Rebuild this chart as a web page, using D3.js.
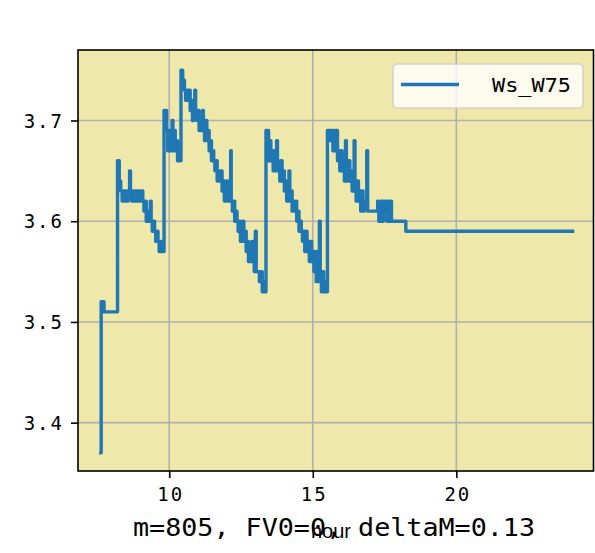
<!DOCTYPE html>
<html>
<head>
<meta charset="utf-8">
<script src="https://cdn.jsdelivr.net/npm/d3@7"></script>
<style>
    body { margin: 0; background: #fff; }
    text { font-family: "DejaVu Sans Mono", "Liberation Mono", monospace; fill: #000; }
</style>
</head>
<body>
<div id="chart"></div>
<script>
// hour / Ws_W75 pairs (step series)
const hours = [
    7.62, 7.63, 7.73, 8.20, 8.26, 8.31, 8.36, 8.40, 8.45, 8.49, 8.53, 8.57, 8.62, 8.65, 8.69, 8.73,
    8.77, 8.81, 8.85, 8.89, 8.93, 8.97, 9.01, 9.05, 9.08, 9.12, 9.16, 9.20, 9.24, 9.28, 9.34, 9.37,
    9.41, 9.45, 9.49, 9.53, 9.57, 9.61, 9.65, 9.69, 9.72, 9.82, 9.85, 9.88, 9.91, 9.95, 9.99, 10.03,
    10.07, 10.10, 10.13, 10.17, 10.21, 10.25, 10.29, 10.33, 10.36, 10.41, 10.47, 10.53, 10.57, 10.61,
    10.65, 10.69, 10.73, 10.77, 10.81, 10.85, 10.89, 10.92, 10.96, 11.00, 11.04, 11.08, 11.12, 11.16,
    11.19, 11.23, 11.27, 11.31, 11.35, 11.39, 11.43, 11.47, 11.51, 11.55, 11.59, 11.63, 11.67, 11.71,
    11.76, 11.80, 11.84, 11.88, 11.92, 11.96, 12.00, 12.04, 12.08, 12.14, 12.16, 12.20, 12.24, 12.28,
    12.32, 12.36, 12.40, 12.44, 12.48, 12.52, 12.56, 12.60, 12.64, 12.68, 12.72, 12.76, 12.80, 12.84,
    12.88, 12.92, 12.96, 13.00, 13.03, 13.14, 13.18, 13.24, 13.28, 13.31, 13.37, 13.40, 13.43, 13.46,
    13.50, 13.54, 13.58, 13.62, 13.66, 13.70, 13.74, 13.77, 13.81, 13.85, 13.89, 13.93, 13.97, 14.01,
    14.05, 14.09, 14.13, 14.17, 14.20, 14.24, 14.28, 14.32, 14.36, 14.40, 14.44, 14.48, 14.52, 14.56,
    14.60, 14.64, 14.68, 14.72, 14.76, 14.80, 14.84, 14.88, 14.92, 14.96, 15.00, 15.04, 15.08, 15.12,
    15.16, 15.20, 15.23, 15.26, 15.30, 15.34, 15.38, 15.42, 15.46, 15.51, 15.60, 15.64, 15.70, 15.74,
    15.78, 15.82, 15.86, 15.90, 15.94, 15.98, 16.02, 16.06, 16.10, 16.14, 16.17, 16.21, 16.25, 16.29,
    16.33, 16.37, 16.41, 16.44, 16.47, 16.51, 16.55, 16.59, 16.63, 16.67, 16.71, 16.75, 16.79, 16.88,
    16.91, 17.26, 17.30, 17.34, 17.38, 17.42, 17.46, 17.50, 17.54, 17.58, 17.62, 17.66, 17.70, 17.74,
    18.24, 24.05
];
const wsW75 = [
    3.37, 3.52, 3.51, 3.66, 3.64, 3.63, 3.62, 3.63, 3.62, 3.63, 3.62, 3.63, 3.65, 3.63, 3.62, 3.63,
    3.62, 3.63, 3.62, 3.63, 3.62, 3.63, 3.62, 3.63, 3.62, 3.61, 3.62, 3.60, 3.61, 3.60, 3.62, 3.60,
    3.59, 3.60, 3.59, 3.58, 3.59, 3.58, 3.57, 3.58, 3.57, 3.71, 3.70, 3.71, 3.69, 3.67, 3.69, 3.68,
    3.67, 3.70, 3.67, 3.69, 3.67, 3.68, 3.66, 3.67, 3.66, 3.75, 3.74, 3.73, 3.72, 3.73,
    3.72, 3.73, 3.71, 3.72, 3.70, 3.72, 3.73, 3.71, 3.70, 3.71, 3.69, 3.70, 3.69, 3.71,
    3.70, 3.68, 3.70, 3.68, 3.69, 3.67, 3.68, 3.66, 3.67, 3.66, 3.65, 3.66, 3.64, 3.65,
    3.64, 3.65, 3.63, 3.64, 3.62, 3.63, 3.64, 3.62, 3.63, 3.67, 3.62, 3.61, 3.62, 3.60,
    3.61, 3.60, 3.59, 3.60, 3.58, 3.59, 3.60, 3.58, 3.59, 3.57, 3.58, 3.56, 3.57, 3.56,
    3.58, 3.56, 3.55, 3.59, 3.55, 3.54, 3.55, 3.53, 3.54, 3.53, 3.69, 3.67, 3.69, 3.66,
    3.68, 3.66, 3.67, 3.65, 3.67, 3.65, 3.68, 3.66, 3.65, 3.64, 3.66, 3.64, 3.65, 3.63,
    3.64, 3.62, 3.63, 3.65, 3.62, 3.63, 3.61, 3.62, 3.61, 3.62, 3.60, 3.61, 3.59, 3.60,
    3.59, 3.58, 3.59, 3.57, 3.59, 3.57, 3.58, 3.56, 3.58, 3.56, 3.57, 3.55, 3.57, 3.54,
    3.56, 3.54, 3.60, 3.55, 3.53, 3.55, 3.53, 3.54, 3.53, 3.69, 3.68, 3.69, 3.67, 3.69,
    3.67, 3.69, 3.66, 3.67, 3.65, 3.67, 3.65, 3.66, 3.64, 3.68, 3.65, 3.64, 3.66, 3.64,
    3.65, 3.63, 3.64, 3.68, 3.63, 3.62, 3.64, 3.62, 3.63, 3.61, 3.63, 3.61, 3.62, 3.67,
    3.61, 3.62, 3.60, 3.61, 3.62, 3.60, 3.62, 3.61, 3.62, 3.60, 3.62, 3.60, 3.62, 3.60,
    3.59, 3.59
];
const xTicks = [10, 15, 20];
const yTicks = [3.4, 3.5, 3.6, 3.7];
const seriesName = "Ws_W75";
const titleText = "m=805, FV0=0, deltaM=0.13";
const xLabel = "hour";

const W = 595, H = 553;
const plot = { left: 78, right: 593.5, top: 50, bottom: 471 };

const svg = d3.select("#chart")
    .append("svg")
    .attr("width", W)
    .attr("height", H);

const x = d3.scaleLinear().domain([6.823, 24.777]).range([plot.left, plot.right]);
const y = d3.scaleLinear().domain([3.352, 3.770]).range([plot.bottom, plot.top]);

// axes background
svg.append("rect")
    .attr("x", plot.left).attr("y", plot.top)
    .attr("width", plot.right - plot.left)
    .attr("height", plot.bottom - plot.top)
    .attr("fill", "#eee8aa");

// grid
const grid = svg.append("g").attr("stroke", "#b0b0b0").attr("stroke-width", 1.6);
grid.selectAll(".gx").data(xTicks).join("line")
    .attr("x1", d => x(d)).attr("x2", d => x(d))
    .attr("y1", plot.top).attr("y2", plot.bottom);
grid.selectAll(".gy").data(yTicks).join("line")
    .attr("y1", d => y(d)).attr("y2", d => y(d))
    .attr("x1", plot.left).attr("x2", plot.right);

// the series
const data = hours.map((h, i) => ({ h, v: wsW75[i] }));
const line = d3.line()
    .x(d => x(d.h))
    .y(d => y(d.v))
    .curve(d3.curveStepAfter);

svg.append("path")
    .datum(data)
    .attr("d", line)
    .attr("fill", "none")
    .attr("stroke", "#1f77b4")
    .attr("stroke-width", 3.4)
    .attr("stroke-linejoin", "round")
    .attr("stroke-linecap", "square");

// axes
const xAxis = svg.append("g")
    .attr("transform", `translate(0,${plot.bottom})`)
    .call(d3.axisBottom(x).tickValues(xTicks).tickSize(7).tickPadding(10));
const yAxis = svg.append("g")
    .attr("transform", `translate(${plot.left},0)`)
    .call(d3.axisLeft(y).tickValues(yTicks).tickSize(7).tickPadding(7).tickFormat(d3.format(".1f")));

[xAxis, yAxis].forEach(g => {
    g.select(".domain").remove();
    g.selectAll(".tick line").attr("stroke", "#000").attr("stroke-width", 1.6);
    g.selectAll(".tick text")
        .style("font-family", "'DejaVu Sans Mono', monospace")
        .style("font-size", "19px")
        .style("letter-spacing", "2px")
        .attr("fill", "#000");
});
yAxis.selectAll(".tick text").attr("dy", "0.35em");
xAxis.selectAll(".tick text").attr("dx", "1px");

// frame
svg.append("rect")
    .attr("x", plot.left).attr("y", plot.top)
    .attr("width", plot.right - plot.left)
    .attr("height", plot.bottom - plot.top)
    .attr("fill", "none")
    .attr("stroke", "#000")
    .attr("stroke-width", 1.6);

// legend
const lg = svg.append("g");
lg.append("rect")
    .attr("x", 393).attr("y", 64)
    .attr("width", 190).attr("height", 44)
    .attr("rx", 4)
    .attr("fill", "rgba(255,255,255,0.8)")
    .attr("stroke", "rgba(204,204,204,0.8)")
    .attr("stroke-width", 1.6);
lg.append("line")
    .attr("x1", 401).attr("x2", 459)
    .attr("y1", 84.5).attr("y2", 84.5)
    .attr("stroke", "#1f77b4")
    .attr("stroke-width", 3.4);
lg.append("text")
    .attr("x", 492).attr("y", 92)
    .attr("textLength", 79)
    .attr("lengthAdjust", "spacingAndGlyphs")
    .style("font-size", "19px")
    .text(seriesName);

// x label and the title that sits over it
svg.append("text")
    .attr("x", 331).attr("y", 538)
    .attr("text-anchor", "middle")
    .style("font-family", "'Liberation Sans', sans-serif")
    .style("font-size", "20px")
    .text(xLabel);

svg.append("text")
    .attr("x", 133).attr("y", 536)
    .attr("textLength", 402)
    .attr("lengthAdjust", "spacingAndGlyphs")
    .style("font-size", "24px")
    .text(titleText);
</script>
</body>
</html>
